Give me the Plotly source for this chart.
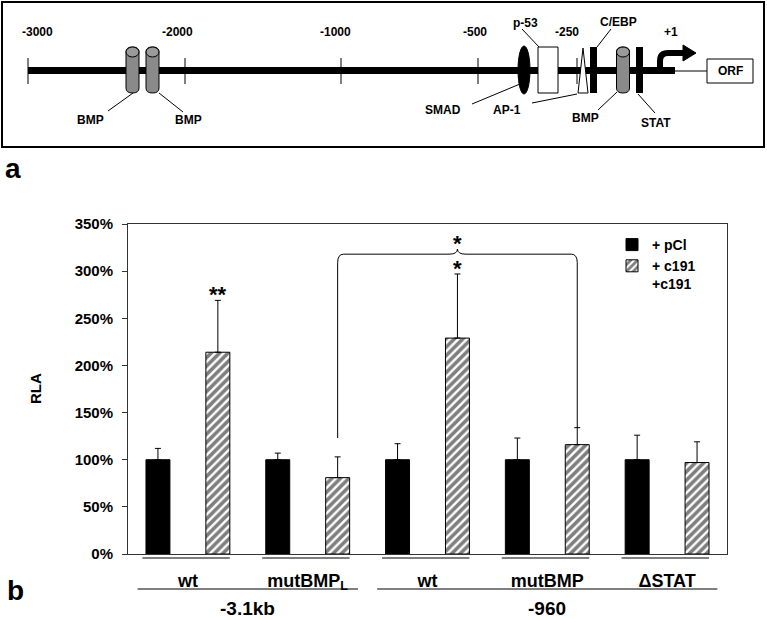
import plotly.graph_objects as go

# ---------------- data: panel b (relative luciferase activity) ----------------
constructs = ["wt", "mutBMP<sub>L</sub>", "wt", "mutBMP", "ΔSTAT"]
promoters = ["-3.1kb", "-960"]
promoter_members = [[0, 1], [2, 3, 4]]
pcl_rla = [1.00, 1.00, 1.00, 1.00, 1.00]
pcl_err = [0.12, 0.07, 0.17, 0.23, 0.26]
c191_rla = [2.14, 0.81, 2.29, 1.16, 0.97]
c191_err = [0.55, 0.22, 0.68, 0.18, 0.22]
y_ticks = [0, 0.5, 1.0, 1.5, 2.0, 2.5, 3.0, 3.5]
single_stars = {0: "**", 2: "*"}          # construct index -> mark on +c191 bar
bracket_pair = (1, 3)                     # +c191 bars compared by the brace
bracket_mark = "*"

# ---------------- data: panel a (promoter map) ----------------
scale_labels = ["-3000", "-2000", "-1000", "-500", "-250", "+1"]
site_names = ["BMP", "BMP", "SMAD", "AP-1", "p-53", "C/EBP", "BMP", "STAT"]

FONT = "Liberation Sans, Arial, Helvetica, sans-serif"
W, H = 767, 620

fig = go.Figure()
x_idx = list(range(len(constructs)))

fig.add_trace(go.Bar(
    x=x_idx, y=pcl_rla, name="+ pCl",
    marker=dict(color="black", line=dict(color="black", width=1)),
    error_y=dict(type="data", array=pcl_err, arrayminus=[0] * 5, symmetric=False,
                 color="black", thickness=1, width=3),
))
fig.add_trace(go.Bar(
    x=x_idx, y=c191_rla, name="+ c191<br>+c191",
    marker=dict(color="white", line=dict(color="black", width=1),
                pattern=dict(shape="/", fgcolor="black", bgcolor="white",
                             size=6, solidity=0.6)),
    error_y=dict(type="data", array=c191_err, arrayminus=[0] * 5, symmetric=False,
                 color="black", thickness=1, width=3),
))

shapes = []
annotations = []

def bold(size):
    return dict(family=FONT, size=size, color="black", weight="bold")

# ---- significance marks ----
off = 0.25  # offset of the +c191 bar in each group
for i, mark in single_stars.items():
    annotations.append(dict(x=i + off, y=c191_rla[i] + c191_err[i], xref="x", yref="y",
                            text=mark, showarrow=False, yanchor="bottom", yshift=-9,
                            font=bold(22)))

a, b = bracket_pair
xa, xb = a + off, b + off
xm = (xa + xb) / 2
yb = 3.18
shapes.append(dict(
    type="path", xref="x", yref="y", line=dict(color="black", width=1),
    path=(f"M {xa},{c191_rla[a] + c191_err[a] + 0.2} L {xa},{yb - 0.09} "
          f"Q {xa},{yb} {xa + 0.05},{yb} L {xm - 0.07},{yb} "
          f"Q {xm},{yb} {xm},{yb + 0.055} Q {xm},{yb} {xm + 0.07},{yb} "
          f"L {xb - 0.05},{yb} Q {xb},{yb} {xb},{yb - 0.09} "
          f"L {xb},{c191_rla[b] + c191_err[b]}")))
annotations.append(dict(x=xm, y=yb + 0.055, xref="x", yref="y", text=bracket_mark,
                        showarrow=False, yanchor="bottom", yshift=-9, font=bold(22)))

# ---- lines under the categories and promoter group labels ----
for i in x_idx:
    shapes.append(dict(type="line", xref="x", yref="paper", x0=i - 0.38, x1=i + 0.35,
                       y0=1 - 558 / H, y1=1 - 558 / H, line=dict(color="black", width=1)))
for name, mem in zip(promoters, promoter_members):
    shapes.append(dict(type="line", xref="x", yref="paper", x0=mem[0] - 0.42, x1=mem[-1] + 0.42,
                       y0=1 - 589 / H, y1=1 - 589 / H, line=dict(color="black", width=1)))
    annotations.append(dict(x=(mem[0] + mem[-1]) / 2, y=1 - 608 / H, xref="x", yref="paper",
                            text=name, showarrow=False, xanchor="center", yanchor="middle",
                            font=bold(19)))

# ---- panel letters and y title ----
annotations.append(dict(x=13, y=168, xref="x2", yref="y2", text="a", showarrow=False,
                        xanchor="center", yanchor="middle", font=bold(28)))
annotations.append(dict(x=15, y=590, xref="x2", yref="y2", text="b", showarrow=False,
                        xanchor="center", yanchor="middle", font=bold(28)))
annotations.append(dict(x=35, y=389, xref="x2", yref="y2", text="RLA", showarrow=False,
                        textangle=-90, xanchor="center", yanchor="middle", font=bold(15)))

# ---------------- panel a: promoter map (pixel-space overlay axis) ----------------
def L(x0, y0, x1, y1, w=1):
    shapes.append(dict(type="line", xref="x2", yref="y2", x0=x0, y0=y0, x1=x1, y1=y1,
                       line=dict(color="black", width=w)))

def T(x, y, s, size=12):
    annotations.append(dict(x=x, y=y, xref="x2", yref="y2", text=s, showarrow=False,
                            xanchor="center", yanchor="middle", font=bold(size)))

def R(x0, y0, x1, y1, fill, lw=1):
    shapes.append(dict(type="rect", xref="x2", yref="y2", x0=x0, y0=y0, x1=x1, y1=y1,
                       fillcolor=fill, line=dict(color="black", width=lw)))

def cylinder(cx, top=47, bottom=93, w=13, r=5):
    x0, x1 = cx - w / 2, cx + w / 2
    shapes.append(dict(type="path", xref="x2", yref="y2", fillcolor="#8a8a8a",
                       line=dict(color="black", width=1),
                       path=(f"M {x0},{top + r} L {x0},{bottom - r} Q {x0},{bottom} {cx},{bottom} "
                             f"Q {x1},{bottom} {x1},{bottom - r} L {x1},{top + r} "
                             f"Q {x1},{top} {cx},{top} Q {x0},{top} {x0},{top + r} Z")))
    shapes.append(dict(type="circle", xref="x2", yref="y2", x0=x0, x1=x1, y0=top, y1=top + 2 * r,
                       fillcolor="#9a9a9a", line=dict(color="black", width=1)))

# frame
shapes.append(dict(type="rect", xref="x2", yref="y2", x0=2, y0=2, x1=764, y1=147,
                   line=dict(color="black", width=2)))
# backbone
R(28, 67, 675, 74, "black", 0)
L(675, 71, 707, 71)
R(707, 59, 753, 83, "white")
T(730, 71, "ORF")
# scale ticks + labels
tick_px = [28, 185, 341, 478, 577]
label_px = [37, 177, 335, 475, 567, 671]
for xp in tick_px:
    L(xp, 58, xp, 84)
for lab, xp in zip(scale_labels, label_px):
    T(xp, 32, lab)

# elements
cylinder(132.5)
cylinder(152.5)
shapes.append(dict(type="circle", xref="x2", yref="y2", x0=518, x1=530, y0=46, y1=94,
                   fillcolor="black", line=dict(color="black", width=1)))
R(538, 47, 558, 93, "white")
shapes.append(dict(type="path", xref="x2", yref="y2", fillcolor="white",
                   line=dict(color="black", width=1), path="M 583,48 L 578,93 L 588,93 Z"))
R(590, 47, 597, 93, "black", 0)
cylinder(623)
R(636, 47, 643, 93, "black", 0)
# transcription start arrow
shapes.append(dict(type="path", xref="x2", yref="y2", line=dict(color="black", width=6),
                   path="M 660,72 L 660,61 Q 660,53 668,53 L 685,53"))
shapes.append(dict(type="path", xref="x2", yref="y2", fillcolor="black",
                   line=dict(color="black", width=1), path="M 683,45 L 696,53 L 683,61 Z"))

# site labels with leader lines
site_label_px = [(90, 120), (188, 120), (443, 110), (507, 110), (525, 23), (618, 22), (585, 118), (656, 123)]
leaders = [((133, 93), (108, 111)), ((159, 93), (183, 112)), ((520, 84), (472, 104)),
           ((577, 94), (532, 103)), ((539, 47), (522, 29)), ((597, 47), (611, 29)),
           ((617, 92), (598, 110)), ((638, 94), (655, 113))]
for name, (lx, ly), ((ax, ay), (bx, by)) in zip(site_names, site_label_px, leaders):
    L(ax, ay, bx, by)
    T(lx, ly, name)

fig.update_layout(
    width=W, height=H, autosize=False,
    margin=dict(l=0, r=0, t=0, b=0),
    paper_bgcolor="white", plot_bgcolor="rgba(0,0,0,0)",
    barmode="group", bargap=0, bargroupgap=0.6,
    font=dict(family=FONT, color="black"),
    xaxis=dict(domain=[128 / W, 727 / W], range=[-0.5, 4.5], tickvals=x_idx, ticktext=constructs,
               showline=True, linecolor="#333", linewidth=1, mirror=True, ticks="",
               showgrid=False, zeroline=False, ticklabelstandoff=10, automargin=False,
               tickfont=bold(18)),
    yaxis=dict(domain=[1 - 554 / H, 1 - 224 / H], range=[0, 3.5], tickvals=y_ticks,
               tickformat=".0%", ticks="outside", ticklen=5, tickcolor="#333",
               showline=True, linecolor="#333", linewidth=1, mirror=True,
               showgrid=False, zeroline=False, ticklabelstandoff=6, automargin=False,
               tickfont=bold(15)),
    xaxis2=dict(domain=[0, 1], range=[0, W], visible=False, anchor="y2", fixedrange=True),
    yaxis2=dict(domain=[0, 1], range=[H, 0], visible=False, anchor="x2", fixedrange=True),
    showlegend=True,
    legend=dict(x=612 / W, y=1 - 229 / H, xanchor="left", yanchor="top", valign="top",
                bgcolor="rgba(0,0,0,0)", tracegroupgap=2, font=bold(14)),
    shapes=shapes, annotations=annotations,
)

fig.write_html("out.html", config={"displayModeBar": False},
               post_script="document.body.style.margin='0px';")
